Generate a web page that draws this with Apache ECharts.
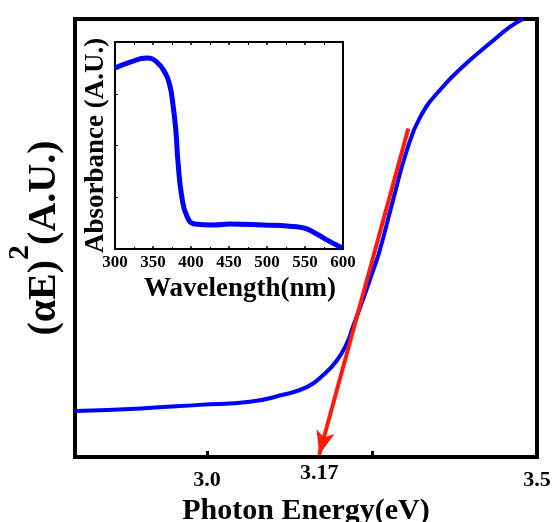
<!DOCTYPE html>
<html>
<head>
<meta charset="utf-8">
<script src="https://cdn.jsdelivr.net/npm/echarts@6/dist/echarts.min.js"></script>
<style>
  html, body { margin: 0; padding: 0; background: #fff; }
  #main { width: 552px; height: 522px; }
</style>
</head>
<body>
<div id="main"></div>
<script>
// 主图: 光子能量 vs (αE)^2
var energy = [2.8, 2.9, 2.989, 3.065, 3.115, 3.152, 3.176, 3.197, 3.212, 3.221, 3.236, 3.252, 3.262, 3.282, 3.303, 3.323, 3.353, 3.394, 3.429, 3.459, 3.479];
var alphaE2 = [10.5, 11.1, 11.9, 12.6, 14.2, 16.0, 18.7, 22.1, 26.0, 29.7, 35.8, 42.7, 47.3, 58.7, 70.1, 77.6, 83.8, 90.0, 94.5, 98.2, 100];
// 切线 (红色箭头)
var fitStart = [3.305, 75];
var fitEnd = [3.17, 0.5];
// 刻度
var energyTicks = [3.0, 3.25, 3.5];
var energyLabels = [3.0, 3.5];
var bandGap = [3.17];

// 插图: 吸收光谱
var wavelength = [300, 320, 342, 355, 366, 372, 376, 380, 383, 388, 395, 405, 429, 451, 495, 530, 548, 562, 578, 599];
var absorbance = [0.874, 0.903, 0.923, 0.903, 0.85, 0.792, 0.705, 0.575, 0.415, 0.251, 0.155, 0.121, 0.116, 0.121, 0.116, 0.11, 0.102, 0.08, 0.045, 0.005];

var font = "Liberation Serif";
var myChart = echarts.init(document.getElementById("main"));

function zip(a, b) {
  return a.map(function (v, i) { return [v, b[i]]; });
}

var option = {
  animation: false,
  grid: [
    { left: 75, top: 19, width: 462, height: 438, outerBoundsMode: "none", containLabel: false, show: true, borderColor: "#000", borderWidth: 4, backgroundColor: "transparent" },
    { left: 115, top: 42, width: 228, height: 207, outerBoundsMode: "none", containLabel: false, show: true, borderColor: "#000", borderWidth: 2, backgroundColor: "transparent" }
  ],
  xAxis: [
    {
      gridIndex: 0, type: "value", min: 2.8, max: 3.5, position: "bottom",
      splitLine: { show: false },
      axisLine: { show: false },
      axisTick: { inside: true, length: 6, lineStyle: { color: "#000", width: 3 }, customValues: energyTicks },
      axisLabel: {
        customValues: energyLabels, margin: 12,
        formatter: function (v) { return v.toFixed(1); },
        color: "#000", fontFamily: font, fontWeight: "bold", fontSize: 22
      },
      name: "Photon Energy(eV)", nameLocation: "middle", nameGap: 35,
      nameTextStyle: { color: "#000", fontFamily: font, fontWeight: "bold", fontSize: 30 }
    },
    {
      gridIndex: 0, type: "value", min: 2.8, max: 3.5, position: "bottom",
      splitLine: { show: false }, axisLine: { show: false }, axisTick: { show: false },
      axisLabel: {
        customValues: bandGap, margin: 5,
        formatter: function (v) { return v.toFixed(2); },
        color: "#000", fontFamily: font, fontWeight: "bold", fontSize: 22
      }
    },
    {
      gridIndex: 1, type: "value", min: 300, max: 600, interval: 50, position: "bottom",
      splitLine: { show: false }, axisLine: { show: false },
      axisTick: { inside: true, length: 3, lineStyle: { color: "#000", width: 1.5 } },
      minorTick: { show: true, splitNumber: 2, length: 2, lineStyle: { color: "#000" } },
      axisLabel: { margin: 5, color: "#000", fontFamily: font, fontWeight: "bold", fontSize: 17 },
      name: "Wavelength(nm)", nameLocation: "middle", nameGap: 27,
      nameTextStyle: { color: "#000", fontFamily: font, fontWeight: "bold", fontSize: 27, padding: [0, 0, 0, 22] }
    },
    {
      gridIndex: 1, type: "value", min: 300, max: 600, interval: 50, position: "top",
      splitLine: { show: false }, axisLine: { show: false }, axisLabel: { show: false },
      axisTick: { inside: true, length: 3, lineStyle: { color: "#000", width: 1.5 } },
      minorTick: { show: true, splitNumber: 2, length: 3, lineStyle: { color: "#000" } }
    }
  ],
  yAxis: [
    {
      gridIndex: 0, type: "value", min: 0, max: 100,
      splitLine: { show: false }, axisLine: { show: false }, axisTick: { show: false }, axisLabel: { show: false },
      name: "(αE){sup|2}(A.U.)", nameLocation: "middle", nameGap: -10, nameRotate: 90,
      nameTextStyle: {
        color: "#000", fontFamily: font, fontWeight: "bold", fontSize: 40,
        rich: { sup: { fontFamily: font, fontWeight: "bold", fontSize: 30, verticalAlign: "top", padding: [0, 0, 50, 0] } }
      }
    },
    {
      gridIndex: 1, type: "value", min: 0, max: 1, interval: 0.25,
      splitLine: { show: false }, axisLine: { show: false }, axisLabel: { show: false },
      axisTick: { inside: true, length: 3, lineStyle: { color: "#000", width: 1 } },
      name: "Absorbance (A.U.)", nameLocation: "middle", nameGap: 5, nameRotate: 90,
      nameTextStyle: { color: "#000", fontFamily: font, fontWeight: "bold", fontSize: 27 }
    }
  ],
  series: [
    {
      type: "line", xAxisIndex: 0, yAxisIndex: 0, smooth: true, showSymbol: false,
      data: zip(energy, alphaE2),
      lineStyle: { color: "#0000ff", width: 4 },
      markLine: {
        silent: true, symbol: ["none", "arrow"], symbolSize: [14, 24],
        label: { show: false },
        lineStyle: { color: "#ff1a0a", width: 4, type: "solid" },
        data: [[{ coord: fitStart }, { coord: fitEnd }]]
      }
    },
    {
      type: "line", xAxisIndex: 2, yAxisIndex: 1, smooth: true, showSymbol: false,
      data: zip(wavelength, absorbance),
      lineStyle: { color: "#0000ff", width: 5 }
    }
  ]
};

myChart.setOption(option);
</script>
</body>
</html>
